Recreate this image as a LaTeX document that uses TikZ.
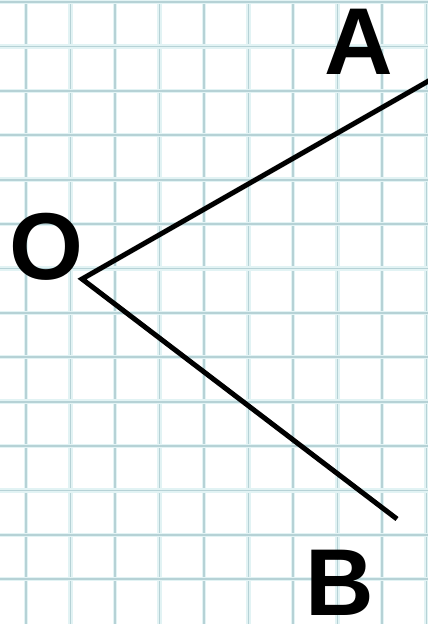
\documentclass[tikz,border=0pt]{standalone}
\usepackage{fontspec}
\setmainfont{Liberation Sans}
\usepackage{xcolor}
\usetikzlibrary{positioning}

\definecolor{gridline}{RGB}{182,210,214}
\definecolor{gridhalo}{RGB}{226,243,244}

\begin{document}
\begin{tikzpicture}[x=1pt,y=-1pt]

\tikzstyle{ray}=[draw, line width=5pt]
\tikzstyle{letter}=[inner sep=0pt,font=\fontsize{95}{95}\selectfont\bfseries]

\fill[white] (0,0) rectangle (428,624);
\useasboundingbox (0,0) rectangle (428,624);

% squared paper
\foreach \i in {0,...,9} {
  \draw[gridhalo, line width=4.5pt] (26+44.5*\i,0) -- (26+44.5*\i,624);
  \draw[gridline, line width=1.8pt] (26+44.5*\i,0) -- (26+44.5*\i,624);
}
\foreach \j in {0,...,13} {
  \draw[gridhalo, line width=4.5pt] (0,2+44.4*\j) -- (428,2+44.4*\j);
  \draw[gridline, line width=1.8pt] (0,2+44.4*\j) -- (428,2+44.4*\j);
}

\coordinate (vertex) at (82,279);
\coordinate (endA) at (432,79);
\coordinate (endB) at (397,519);

\node (O) [letter] at (46,247) {O};
\node (A) [letter] at (359,42) {A};
\node (B) [letter] at (340,583) {B};

\draw[ray] (endA) -- (vertex) -- (endB);

\end{tikzpicture}
\end{document}
